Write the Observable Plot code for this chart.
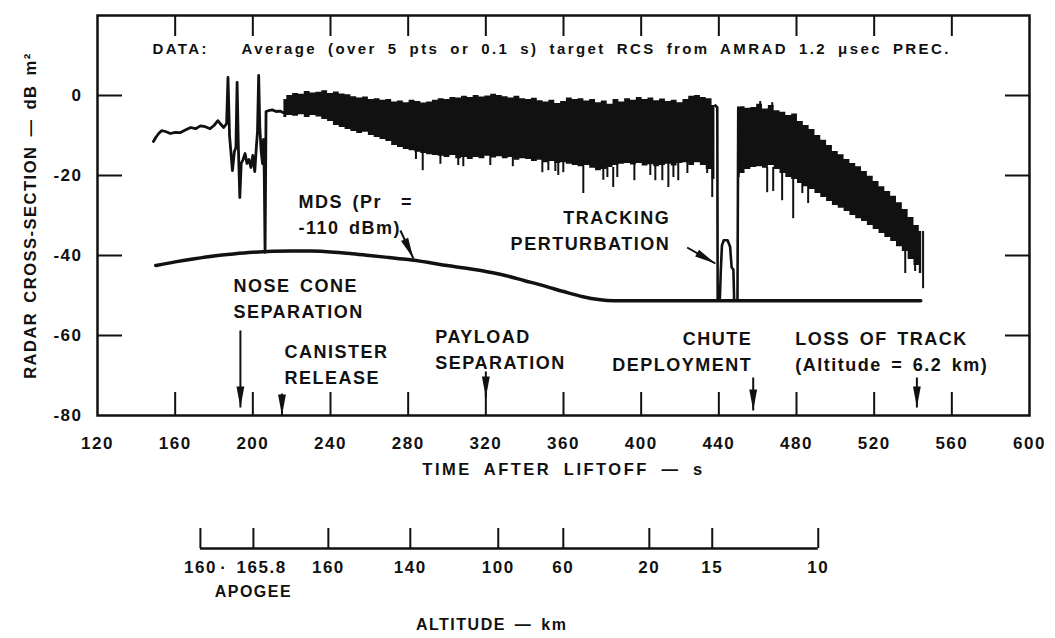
<!DOCTYPE html>
<html>
<head>
<meta charset="utf-8">
<script src="https://cdn.jsdelivr.net/npm/d3@7"></script>
<script src="https://cdn.jsdelivr.net/npm/@observablehq/plot@0.6"></script>
<style>
  html, body { margin: 0; padding: 0; background: #fff; }
  #chart { width: 1055px; height: 638px; }
  #chart svg { display: block; }
  #chart svg text {
    font-family: "Liberation Sans", Arial, sans-serif;
    font-weight: bold;
    fill: #111;
    letter-spacing: 1.5px;
    word-spacing: 3px;
  }
</style>
</head>
<body>
<div id="chart"></div>
<script>
// ---- axes ----
const timeLabels = [120, 160, 200, 240, 280, 320, 360, 400, 440, 480, 520, 560, 600];
const timeTicks = [160, 200, 240, 280, 320, 360, 400, 440, 480, 520, 560];
const rcsLabels = [0, -20, -40, -60, -80];
const rcsTicks = [0, -20, -40, -60];

// altitude (km) reached at a given time after liftoff (s)
const altTime = [173, 200.3, 238.9, 281.1, 326.4, 359.9, 404.2, 436.6, 491.2];
const altLabel = ["160", "· 165.8", "160", "140", "100", "60", "20", "15", "10"];

// ---- RCS trace: smooth early part (single line) ----
const earlyTime = [148.8, 150, 151.5, 153, 155, 157.5, 160, 162.5, 165, 168,
  170.5, 173, 175.5, 178, 180, 182, 183.5, 185, 186.5, 187.2,
  188, 189.5, 190.5, 191.3, 191.9, 192.5, 193.3, 194, 195, 196,
  197, 198, 199, 200, 201, 201.8, 202.4, 203, 203.6, 204.3,
  205, 205.5, 205.9, 206.3, 206.8, 208, 210, 212, 214, 215.8];
const earlyRcs = [-11.5, -10.5, -9.5, -8.8, -9.0, -9.5, -9.2, -9.3, -8.7, -8.0,
  -8.3, -7.6, -7.8, -8.3, -7.5, -6.3, -7.2, -8.0, -7.0, 4.5,
  -10, -18.8, -14, -13, 3.3, -12, -25.5, -17, -16, -14.5,
  -17, -16, -18, -15, -19, -13, -9, 5, -8, -14,
  -17, -11, -20, -39.2, -4, -3.8, -3.6, -4.0, -3.9, -4.3];

// ---- RCS trace: dense fluctuation, upper and lower envelopes ----
const band1Time = [216, 219, 222, 225, 228, 231, 234, 237, 240, 243,
  246, 249, 252, 255, 258, 261, 264, 267, 270, 273,
  276, 279, 282, 285, 288, 291, 294, 297, 300, 303,
  306, 309, 312, 315, 318, 321, 324, 327, 330, 333,
  336, 339, 342, 345, 348, 351, 354, 357, 360, 363,
  366, 369, 372, 375, 378, 381, 384, 387, 390, 393,
  396, 399, 402, 405, 408, 411, 414, 417, 420, 423,
  426, 429, 432, 435, 438];
const band1High = [-1.0, 0.0, 0.5, 0.3, 1.0, 0.6, 0.8, 1.2, 0.5, 0.9,
  0.4, 0.2, -0.3, -0.6, -0.4, -1.0, -0.8, -1.2, -1.0, -1.6,
  -1.4, -1.8, -1.2, -1.5, -1.9, -1.6, -1.2, -0.8, -1.0, -0.5,
  -0.6, -0.2, -0.5, 0.0, -0.4, -0.1, 0.3, 0.0, -0.3, -0.6,
  -0.2, -0.8, -1.0, -0.7, -1.3, -1.6, -1.2, -2.0, -1.5, -0.6,
  -1.0, -0.8, -1.4, -1.0, -1.8, -1.4, -2.2, -1.0, -1.6, -0.8,
  -1.2, -0.5, -1.0, -0.6, -1.3, -0.9, -1.5, -1.2, -1.8, -1.0,
  -0.2, 0.0, -0.5, -0.8, -2.5];
const band1Low = [-5.5, -5.0, -5.2, -4.8, -5.5, -5.0, -5.4, -6.0, -6.5, -7.5,
  -8.0, -8.5, -9.0, -9.5, -9.2, -10.0, -10.5, -11.0, -11.5, -12.5,
  -13.0, -13.5, -13.8, -14.2, -14.5, -14.8, -15.0, -15.2, -15.5, -15.0,
  -15.8, -15.5, -16.0, -15.5, -15.8, -15.2, -15.6, -15.3, -15.8, -15.5,
  -16.2, -15.8, -16.0, -16.5, -16.2, -16.8, -16.5, -17.0, -16.8, -17.2,
  -17.5, -17.8, -17.5, -18.2, -18.8, -18.5, -18.0, -17.5, -17.2, -17.0,
  -17.4, -17.0, -17.6, -17.3, -17.8, -17.5, -17.2, -17.6, -17.0, -16.8,
  -17.5, -16.8, -17.5, -18.5, -21.0];

const band2Time = [450, 452, 455, 458, 461, 464, 467, 470, 473, 476,
  479, 482, 485, 488, 491, 494, 497, 500, 503, 506,
  509, 512, 515, 518, 521, 524, 527, 530, 533, 536,
  539, 542, 544.5];
const band2High = [-3.0, -2.8, -3.2, -3.0, -2.2, -3.4, -2.5, -3.8, -4.2, -5.0,
  -4.6, -6.5, -7.5, -8.5, -10.0, -11.2, -12.5, -14.0, -14.8, -16.0,
  -17.0, -17.8, -19.0, -20.2, -21.5, -22.8, -24.0, -25.2, -26.8, -28.5,
  -30.5, -32.5, -34.0];
const band2Low = [-20.5, -19.5, -18.5, -18.0, -17.8, -18.2, -17.5, -18.5, -19.5, -20.5,
  -21.0, -22.0, -22.8, -23.5, -24.5, -25.5, -26.5, -27.5, -28.2, -29.0,
  -30.0, -30.8, -31.5, -32.5, -33.5, -34.5, -35.5, -36.5, -37.8, -39.0,
  -41.0, -42.5, -44.5];

// isolated excursions beyond the envelopes
const spikeTime = [284, 287.5, 296.6, 305.8, 308.4, 322.3, 333.9, 349.1, 352.2, 355.8,
  357.3, 359.9, 370.2, 380.5, 382.6, 385.6, 387.7, 396.5, 404.7, 407.3,
  410.9, 414, 416.6, 419.1, 423.8, 434, 436.6,
  461.3, 464.9, 467.5, 468, 472.6, 478.3, 483, 486, 536, 541.1, 545.2];
const spikeTop = [-12, -14, -14, -15, -15, -15, -15, -16, -16, -16,
  -16, -16, -14, -18, -18, -18, -17, -17, -17, -17,
  -17, -17, -17, -17, -16, -17, -17,
  -3, -18, -3, -18, -19, -20, -21, -22, -38, -41, -34];
const spikeBottom = [-16, -18.8, -17.2, -17.5, -17.8, -17.5, -17.8, -19.3, -18.8, -19,
  -20, -19.3, -24.5, -21.2, -20.5, -23, -20.5, -21.3, -20, -21.3,
  -21.3, -23, -20.5, -21.3, -19.5, -19.5, -25.5,
  -1.5, -24.3, -1.8, -24, -26.3, -30.8, -24.5, -27, -44.5, -44, -48.3];

// tracking perturbation between the two dense runs
const perturbTime = [438.2, 439.2, 439.4, 440.5, 441, 441.6, 442.5, 444.5, 445.8, 446.6, 447.5, 447.9, 449.6, 450];
const perturbRcs = [-2.5, -3, -51.3, -51.3, -44, -37.5, -36.2, -36.2, -37.8, -43, -43.5, -51.3, -51.3, -3];

// minimum detectable signal (Pr = -110 dBm)
const mdsTime = [150, 160, 170, 180, 190, 200, 210, 220, 230, 240, 250, 260, 270, 280,
  290, 300, 310, 320, 330, 340, 350, 360, 370, 378, 386, 420, 480, 544];
const mdsRcs = [-42.5, -41.6, -40.8, -40.1, -39.6, -39.2, -38.95, -38.85, -38.9, -39.1, -39.5, -40.0, -40.5, -41.0,
  -41.7, -42.5, -43.2, -44.0, -45.0, -46.3, -47.6, -49.0, -50.3, -51.0, -51.3, -51.3, -51.3, -51.3];

// ---- annotations ----
const noteLabel = ["MDS (Pr  =\n-110 dBm)", "TRACKING\nPERTURBATION", "NOSE CONE\nSEPARATION",
  "CANISTER\nRELEASE", "PAYLOAD\nSEPARATION", "CHUTE\nDEPLOYMENT", "LOSS OF TRACK\n(Altitude = 6.2 km)"];
const noteTime = [223.5, 415, 190, 216.3, 294, 457.2, 479.4];
const noteRcs = [-29.3, -33.4, -50.4, -66.9, -63.1, -63.6, -63.6];
const noteAlign = ["start", "end", "start", "start", "start", "end", "start"];

const arrowTime1 = [276, 423.7, 193.6, 215, 320, 457.7, 542];
const arrowRcs1 = [-33.75, -38, -58.75, -74.5, -69, -70.5, -70.5];
const arrowTime2 = [282.7, 438.2, 193.6, 215, 320, 457.7, 542];
const arrowRcs2 = [-40.75, -42, -78, -80, -75.5, -78.75, -78];

const dataNote = "DATA:   Average (over 5 pts or 0.1 s) target RCS from AMRAD 1.2 \u03bcsec PREC.";
const xTitle = "TIME AFTER LIFTOFF \u2014 s";
const yTitle = "RADAR CROSS-SECTION \u2014 dB m\u00b2";
const altTitle = "ALTITUDE \u2014 km";
const apogeeLabel = "APOGEE";

// ---- layout ----
const W = 1055, H1 = 490, H2 = 148;
const mL = 97, mR = 26, mT = 15, mB = 75;
const X0 = 120, X1 = 600, Y0 = -80, Y1 = 20;
const kx = (W - mL - mR) / (X1 - X0);
const ky = (H1 - mT - mB) / (Y1 - Y0);
const ink = "#111";

const early = earlyTime.map((t, i) => ({t, v: earlyRcs[i]}));
const band1 = band1Time.map((t, i) => ({t, hi: band1High[i], lo: band1Low[i]}));
const band2 = band2Time.map((t, i) => ({t, hi: band2High[i], lo: band2Low[i]}));
const spikes = spikeTime.map((t, i) => ({t, top: spikeTop[i], bottom: spikeBottom[i]}));
const perturb = perturbTime.map((t, i) => ({t, v: perturbRcs[i]}));
const mds = mdsTime.map((t, i) => ({t, v: mdsRcs[i]}));
const notes = noteLabel.map((label, i) => ({label, t: noteTime[i], v: noteRcs[i], align: noteAlign[i]}));
const arrows = arrowTime1.map((x1, i) => {
  const x2 = arrowTime2[i], y1 = arrowRcs1[i], y2 = arrowRcs2[i];
  const dx = (x2 - x1) * kx, dy = -(y2 - y1) * ky;
  return {x1, y1, x2, y2, angle: Math.atan2(dx, -dy) * 180 / Math.PI};
});

// slender filled arrowhead, tip at the origin pointing up
const arrowHead = {
  draw(context, size) {
    const r = Math.sqrt(size / Math.PI);
    const len = 3 * r, hw = 0.56 * r;
    context.moveTo(0, 0);
    context.lineTo(hw, len);
    context.lineTo(-hw, len);
    context.closePath();
  }
};

const main = Plot.plot({
  width: W, height: H1,
  marginLeft: mL, marginRight: mR, marginTop: mT, marginBottom: mB,
  x: {domain: [X0, X1], label: null},
  y: {domain: [Y0, Y1], label: null},
  style: {background: "#fff", color: ink},
  marks: [
    Plot.frame({stroke: ink, strokeWidth: 2.5}),
    Plot.axisX(timeTicks, {anchor: "bottom", tickSize: -23, tickFormat: () => "", strokeWidth: 2, label: null}),
    Plot.axisX(timeTicks, {anchor: "top", tickSize: -20, tickFormat: () => "", strokeWidth: 2, label: null}),
    Plot.axisX(timeLabels, {anchor: "bottom", tickSize: 0, tickPadding: 21, fontSize: 17, tickFormat: d => String(d), label: null}),
    Plot.axisY(rcsTicks, {anchor: "left", tickSize: -25, tickFormat: () => "", strokeWidth: 2, label: null}),
    Plot.axisY(rcsTicks, {anchor: "right", tickSize: -25, tickFormat: () => "", strokeWidth: 2, label: null}),
    Plot.axisY(rcsLabels, {anchor: "left", tickSize: 0, tickPadding: 15, fontSize: 17, tickFormat: d => String(d), label: null}),
    Plot.text([xTitle], {frameAnchor: "bottom", dy: 54, fontSize: 16.5, lineAnchor: "middle"}),
    Plot.text([yTitle], {frameAnchor: "left", dx: -67, rotate: -90, textAnchor: "middle", fontSize: 16.5, lineAnchor: "middle"}),

    // RCS trace
    Plot.areaY(band1, {x: "t", y1: "lo", y2: "hi", curve: "step", fill: ink}),
    Plot.areaY(band2, {x: "t", y1: "lo", y2: "hi", curve: "step", fill: ink}),
    Plot.ruleX(spikes, {x: "t", y1: "top", y2: "bottom", stroke: ink, strokeWidth: 2}),
    Plot.line(early, {x: "t", y: "v", stroke: ink, strokeWidth: 2.8, strokeLinejoin: "round"}),
    Plot.line(perturb, {x: "t", y: "v", stroke: ink, strokeWidth: 2.6}),

    // MDS
    Plot.line(mds, {x: "t", y: "v", stroke: ink, strokeWidth: 3.5, curve: "monotone-x"}),

    // annotations
    Plot.text(notes, {filter: d => d.align === "start", x: "t", y: "v", text: "label", textAnchor: "start",
      lineAnchor: "middle", lineHeight: 1.45, fontSize: 18}),
    Plot.text(notes, {filter: d => d.align === "end", x: "t", y: "v", text: "label", textAnchor: "end",
      lineAnchor: "middle", lineHeight: 1.45, fontSize: 18}),
    Plot.link(arrows, {x1: "x1", y1: "y1", x2: "x2", y2: "y2", stroke: ink, strokeWidth: 2}),
    Plot.dot(arrows, {x: "x2", y: "y2", rotate: "angle", symbol: arrowHead, r: 7, fill: ink, stroke: "none"}),

    Plot.text([dataNote], {x: 148.3, y: 11.5, textAnchor: "start", fontSize: 15})
  ]
});

const altTicks = altTime.map((t, i) => ({t, label: altLabel[i]}));
const alt = Plot.plot({
  width: W, height: H2,
  marginLeft: mL, marginRight: mR, marginTop: 38, marginBottom: 90,
  x: {domain: [X0, X1], axis: null},
  y: {domain: [0, 1], axis: null},
  style: {background: "#fff", color: ink},
  marks: [
    Plot.ruleY([0], {x1: altTime[0], x2: altTime[altTime.length - 1], stroke: ink, strokeWidth: 2.5}),
    Plot.ruleX(altTicks, {x: "t", y1: 0, y2: 1, stroke: ink, strokeWidth: 2}),
    Plot.text(altTicks, {x: "t", text: "label", frameAnchor: "bottom", lineAnchor: "top", dy: 12, fontSize: 17}),
    Plot.text([apogeeLabel], {x: altTime[1], frameAnchor: "bottom", lineAnchor: "top", dy: 37, fontSize: 16}),
    Plot.text([altTitle], {x: 323, frameAnchor: "bottom", lineAnchor: "top", dy: 70, fontSize: 16})
  ]
});

// wider lettering for the header note and the time-axis title
function spaceText(svg, content, letter, word) {
  d3.select(svg).selectAll("text")
    .filter(function() { return this.textContent === content; })
    .each(function() {
      this.style.setProperty("letter-spacing", letter);
      this.style.setProperty("word-spacing", word);
    });
}
spaceText(main, dataNote, "2.4px", "4.5px");
spaceText(main, xTitle, "2.5px", "5.5px");

const chart = document.getElementById("chart");
chart.appendChild(main);
chart.appendChild(alt);
</script>
</body>
</html>
